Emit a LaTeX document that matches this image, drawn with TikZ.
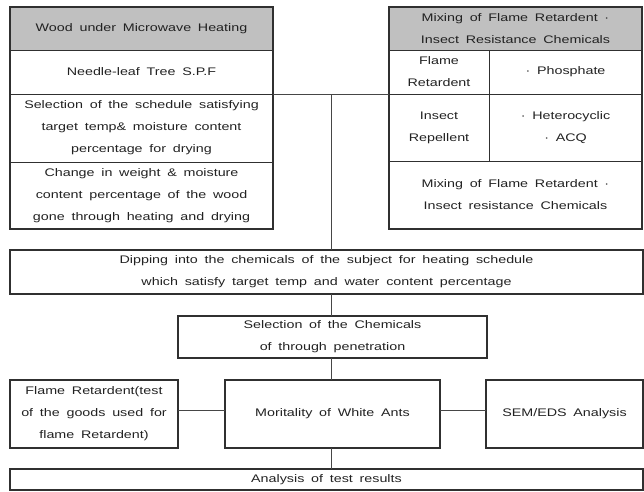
\documentclass[tikz,border=0pt]{standalone}
\usepackage{fontspec}
\setmainfont[FakeStretch=1.3,WordSpace=1.7]{Liberation Sans}
\definecolor{hdr}{RGB}{192,192,192}
\definecolor{ink}{RGB}{34,34,34}
\definecolor{edge}{RGB}{48,48,48}
\definecolor{wire}{RGB}{70,70,70}
\begin{document}
\begin{tikzpicture}[x=1pt,y=-1pt,
  cell/.style={draw=edge,line width=0.8pt,inner sep=0pt,outer sep=0pt,align=center,
    text=ink,font=\fontsize{11}{22}\selectfont},
  hcell/.style={cell,fill=hdr},
  box/.style={cell,line width=1.6pt},
  frame/.style={draw=edge,line width=1.6pt},
  wireline/.style={draw=wire,line width=0.9pt}]
\useasboundingbox (0,0) rectangle (644,491);
% left table
\node[hcell,minimum width=263pt,minimum height=43pt] (lth) at (141.5,28.5) {Wood under Microwave Heating};
\node[cell,minimum width=263pt,minimum height=44pt] (lt2) at (141.5,72) {Needle-leaf Tree S.P.F};
\node[cell,minimum width=263pt,minimum height=68pt] (lt3) at (141.5,128) {Selection of the schedule satisfying\\target temp\& moisture content\\percentage for drying};
\node[cell,minimum width=263pt,minimum height=67pt] (lt4) at (141.5,195.5) {Change in weight \& moisture\\content percentage of the wood\\gone through heating and drying};
\draw[frame] (lth.north west) rectangle (lt4.south east);
% right table
\node[hcell,minimum width=253pt,minimum height=43pt] (rth) at (515.5,28.5) {Mixing of Flame Retardent ·\\Insect Resistance Chemicals};
\node[cell,minimum width=100pt,minimum height=44pt] (ra1) at (439,72) {Flame\\Retardent};
\node[cell,minimum width=153pt,minimum height=44pt] (ra2) at (565.5,72) {· Phosphate};
\node[cell,minimum width=100pt,minimum height=67pt] (rb1) at (439,127.5) {Insect\\Repellent};
\node[cell,minimum width=153pt,minimum height=67pt] (rb2) at (565.5,127.5) {· Heterocyclic\\· ACQ};
\node[cell,minimum width=253pt,minimum height=68pt] (rc) at (515.5,195) {Mixing of Flame Retardent ·\\Insect resistance Chemicals};
\draw[frame] (rth.north west) rectangle (rc.south east);
% flow boxes
\node[box,minimum width=633pt,minimum height=44pt] (dip) at (326.5,272) {Dipping into the chemicals of the subject for heating schedule\\which satisfy target temp and water content percentage};
\node[box,minimum width=309pt,minimum height=42pt] (sel) at (332.5,337) {Selection of the Chemicals\\of through penetration};
\node[box,minimum width=168pt,minimum height=68pt] (fla) at (94,414) {Flame Retardent(test\\of the goods used for\\flame Retardent)};
\node[box,minimum width=215pt,minimum height=68pt] (mor) at (332.5,414) {Moritality of White Ants};
\node[box,minimum width=157pt,minimum height=68pt] (sem) at (564.5,414) {SEM/EDS Analysis};
\node[box,minimum width=633pt,minimum height=21pt] (ana) at (326.5,479.5) {Analysis of test results};
% connectors
\coordinate (j) at (331,94);
\draw[wireline] (lt2.south east) -- (lt2.south east -| rb1.west);
\draw[wireline] (j) -- (j |- dip.north);
\draw[wireline] (j |- dip.south) -- (j |- sel.north);
\draw[wireline] (j |- sel.south) -- (j |- mor.north);
\draw[wireline] (j |- mor.south) -- (j |- ana.north);
\draw[wireline] ([yshift=4pt]fla.east) -- ([yshift=4pt]mor.west);
\draw[wireline] ([yshift=4pt]mor.east) -- ([yshift=4pt]sem.west);
\end{tikzpicture}
\end{document}
